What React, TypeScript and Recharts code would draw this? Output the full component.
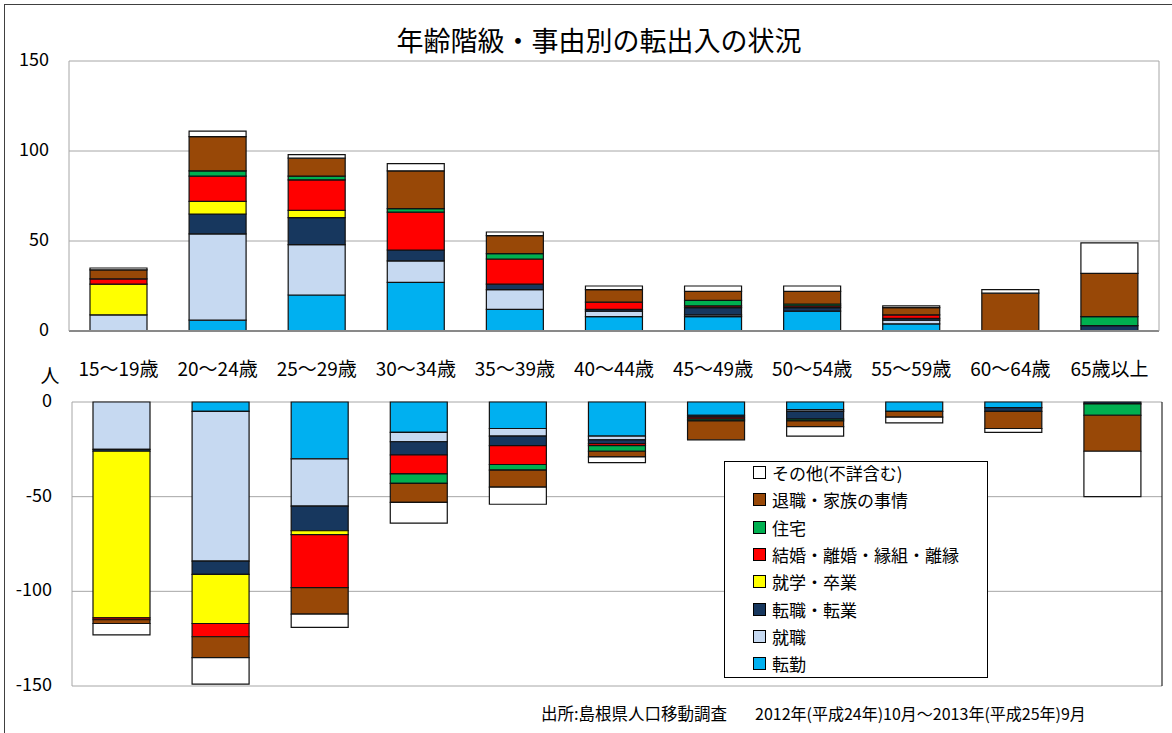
import React from 'react';
import { BarChart, Bar, XAxis, YAxis, CartesianGrid, Legend } from 'recharts';

const FONT = "'Noto Sans CJK JP', 'Noto Sans', sans-serif";

const categories = ['15～19歳', '20～24歳', '25～29歳', '30～34歳', '35～39歳', '40～44歳', '45～49歳', '50～54歳', '55～59歳', '60～64歳', '65歳以上'];

const seriesNames = ['転勤', '就職', '転職・転業', '就学・卒業', '結婚・離婚・縁組・離縁', '住宅', '退職・家族の事情', 'その他(不詳含む)'];
const seriesColors = ['#00B0F0', '#C6D9F1', '#17375E', '#FFFF00', '#FF0000', '#00B050', '#984807', '#FFFFFF'];

// 転入 (upper panel)
const inTenkin = [0, 6, 20, 27, 12, 8, 8, 11, 4, 0, 0];
const inShushoku = [9, 48, 28, 12, 11, 3, 1, 0, 2, 0, 0];
const inTenshoku = [0, 11, 15, 6, 3, 1, 4, 2, 1, 0, 3];
const inShugaku = [17, 7, 4, 0, 0, 0, 0, 0, 0, 0, 0];
const inKekkon = [3, 14, 17, 21, 14, 4, 1, 1, 2, 0, 0];
const inJutaku = [0, 3, 2, 2, 3, 0, 3, 1, 0, 0, 5];
const inTaishoku = [5, 19, 10, 21, 10, 7, 5, 7, 4, 21, 24];
const inSonota = [1, 3, 2, 4, 2, 2, 3, 3, 1, 2, 17];

// 転出 (lower panel)
const outTenkin = [0, -5, -30, -16, -14, -18, -7, -4, -5, -3, 0];
const outShushoku = [-25, -79, -25, -5, -4, -2, 0, -1, 0, 0, 0];
const outTenshoku = [-1, -7, -13, -7, -5, -2, -1, -4, 0, -2, -1];
const outShugaku = [-88, -26, -2, 0, 0, 0, 0, 0, 0, 0, 0];
const outKekkon = [-1, -7, -28, -10, -10, -1, -1, 0, 0, 0, 0];
const outJutaku = [0, 0, 0, -5, -3, -3, -1, -1, 0, 0, -6];
const outTaishoku = [-2, -11, -14, -10, -9, -3, -10, -3, -3, -9, -19];
const outSonota = [-6, -14, -7, -11, -9, -3, 0, -5, -3, -2, -24];

const upperTicks = [0, 50, 100, 150];
const lowerTicks = [-150, -100, -50, 0];

const inSeries = [inTenkin, inShushoku, inTenshoku, inShugaku, inKekkon, inJutaku, inTaishoku, inSonota];
const outSeries = [outTenkin, outShushoku, outTenshoku, outShugaku, outKekkon, outJutaku, outTaishoku, outSonota];

const buildRows = (series: number[][]) =>
  categories.map((c, i) => {
    const row: Record<string, any> = { name: c };
    seriesNames.forEach((s, k) => {
      row[s] = series[k][i];
    });
    return row;
  });

const upperData = buildRows(inSeries);
const lowerData = buildRows(outSeries);

const CatTick = (props: any) => {
  const { x, y, payload } = props;
  return (
    <text x={x} y={y + 36} textAnchor="middle" dominantBaseline="central" fontSize={19} fill="#000" fontFamily={FONT}>
      {payload.value}
    </text>
  );
};

const ValTick = (props: any) => {
  const { x, y, payload } = props;
  return (
    <text x={x - 20} y={y - 3} textAnchor="end" dominantBaseline="central" fontSize={18} fill="#000" fontFamily={FONT}>
      {payload.value}
    </text>
  );
};

const LegendBox = (props: any) => {
  const items = [...(props.payload || [])].sort(
    (a: any, b: any) => seriesNames.indexOf(b.value) - seriesNames.indexOf(a.value)
  );
  return (
    <div style={{ width: 262, height: 215, border: '1px solid #000', background: '#fff', position: 'relative', fontFamily: FONT }}>
      <div style={{ position: 'absolute', left: 28, top: -3 }}>
        {items.map((it: any) => (
          <div key={it.value} style={{ height: 27.3, display: 'flex', alignItems: 'center' }}>
            <span style={{ display: 'inline-block', width: 11, height: 11, border: '1px solid #000', background: it.color, marginRight: 6 }} />
            <span style={{ fontSize: 17, color: '#000', whiteSpace: 'nowrap' }}>{it.value}</span>
          </div>
        ))}
      </div>
    </div>
  );
};

export default function App() {
  return (
    <div style={{ position: 'absolute', left: 0, top: 0, width: 1172, height: 733, overflow: 'hidden', background: '#fff', fontFamily: FONT }}>
      <div style={{ position: 'absolute', left: 4, top: 4, width: 1180, height: 760, border: '1px solid #404040' }} />
      <div style={{ position: 'absolute', left: 0, top: 22, width: 1198, textAlign: 'center', fontSize: 27, color: '#000', lineHeight: '36px' }}>
        年齢階級・事由別の転出入の状況
      </div>
      <div style={{ position: 'absolute', left: 0, top: 0 }}>
        <BarChart width={1172} height={400} data={upperData} margin={{ top: 61, right: 0, bottom: 0, left: 0 }} barSize={57}>
          <CartesianGrid vertical={false} stroke="#A6A6A6" />
          <XAxis dataKey="name" height={69} tickSize={0} tickMargin={0} tickLine={false} axisLine={{ stroke: '#898989', strokeWidth: 2 }} tick={<CatTick />} interval={0} />
          <YAxis domain={[0, 150]} ticks={upperTicks} width={69} tickSize={0} tickMargin={0} tickLine={false} axisLine={{ stroke: '#A6A6A6' }} tick={<ValTick />} />
          <YAxis yAxisId="r" orientation="right" domain={[0, 150]} width={13} tick={false} tickLine={false} axisLine={{ stroke: '#A6A6A6' }} />
          {seriesNames.map((s, k) => (
            <Bar key={s} dataKey={s} stackId="a" fill={seriesColors[k]} stroke="#111" strokeWidth={1.2} isAnimationActive={false} />
          ))}
        </BarChart>
      </div>
      <div style={{ position: 'absolute', left: 0, top: 0 }}>
        <BarChart width={1172} height={733} data={lowerData} margin={{ top: 402, right: 0, bottom: 47, left: 0 }} barSize={57}>
          <CartesianGrid vertical={false} stroke="#A6A6A6" />
          <XAxis dataKey="name" orientation="top" height={0} tick={false} tickLine={false} axisLine={{ stroke: '#262626', strokeWidth: 2 }} />
          <XAxis xAxisId="b" dataKey="name" orientation="bottom" height={0} tick={false} tickLine={false} axisLine={{ stroke: '#262626', strokeWidth: 2 }} />
          <YAxis domain={[-150, 0]} ticks={lowerTicks} width={72} tickSize={0} tickMargin={0} tickLine={false} axisLine={{ stroke: '#A6A6A6' }} tick={<ValTick />} />
          <YAxis yAxisId="r" orientation="right" domain={[-150, 0]} width={10} tick={false} tickLine={false} axisLine={{ stroke: '#000' }} />
          {seriesNames.map((s, k) => (
            <Bar key={s} dataKey={s} stackId="a" fill={seriesColors[k]} stroke="#111" strokeWidth={1.2} isAnimationActive={false} />
          ))}
          <Legend layout="vertical" align="center" verticalAlign="middle" content={<LegendBox />} wrapperStyle={{ left: 724, top: 461, width: 264, height: 217 }} />
        </BarChart>
      </div>
      <div style={{ position: 'absolute', left: 30, top: 362, width: 40, textAlign: 'center', fontSize: 19, color: '#000', lineHeight: '26px' }}>人</div>
      <div style={{ position: 'absolute', left: 541, top: 702, fontSize: 16.5, color: '#000', whiteSpace: 'nowrap', lineHeight: '22px' }}>出所:島根県人口移動調査</div>
      <div style={{ position: 'absolute', left: 755, top: 702, fontSize: 16, color: '#000', whiteSpace: 'nowrap', lineHeight: '22px' }}>2012年(平成24年)10月～2013年(平成25年)9月</div>
    </div>
  );
}
